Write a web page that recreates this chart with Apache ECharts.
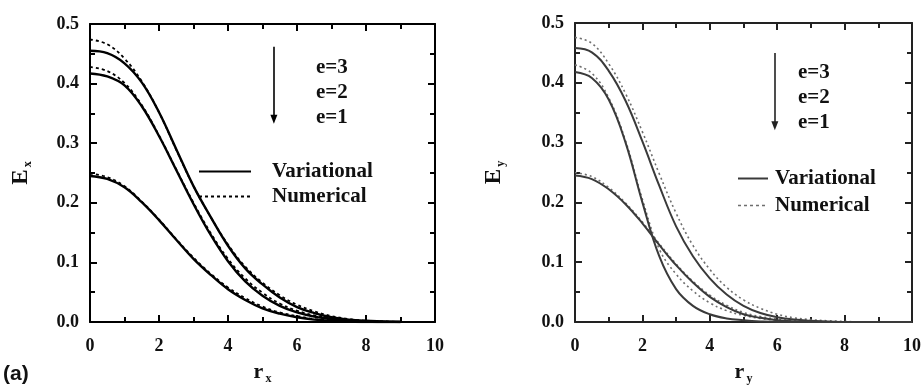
<!DOCTYPE html>
<html>
<head>
<meta charset="utf-8">
<script src="https://cdn.jsdelivr.net/npm/echarts@6/dist/echarts.min.js"></script>
<style>
  html, body { margin: 0; padding: 0; background: #fff; }
  #chart { width: 924px; height: 390px; }
</style>
</head>
<body>
<div id="chart"></div>
<script>
// panel (a): E_x vs r_x
const rx = [0, 0.5, 1, 1.5, 2, 2.5, 3, 3.5, 4, 4.5, 5, 5.5, 6, 6.5, 7, 7.5, 8, 8.5, 9];
const ex_var_e3 = [0.455, 0.451, 0.434, 0.402, 0.352, 0.290, 0.228, 0.176, 0.128, 0.090, 0.063, 0.041, 0.025, 0.015, 0.008, 0.004, 0.002, 0.001, 0.000];
const ex_var_e2 = [0.417, 0.412, 0.397, 0.362, 0.312, 0.255, 0.198, 0.146, 0.102, 0.068, 0.044, 0.027, 0.016, 0.009, 0.005, 0.002, 0.001, 0.000, 0.000];
const ex_var_e1 = [0.245, 0.240, 0.226, 0.201, 0.171, 0.138, 0.106, 0.079, 0.055, 0.037, 0.023, 0.014, 0.008, 0.004, 0.002, 0.001, 0.000, 0.000, 0.000];
const ex_num_e3 = [0.474, 0.466, 0.442, 0.404, 0.352, 0.289, 0.228, 0.176, 0.130, 0.093, 0.066, 0.045, 0.029, 0.018, 0.010, 0.005, 0.002, 0.001, 0.000];
const ex_num_e2 = [0.428, 0.421, 0.401, 0.364, 0.313, 0.256, 0.200, 0.149, 0.106, 0.073, 0.049, 0.031, 0.019, 0.011, 0.006, 0.003, 0.001, 0.000, 0.000];
const ex_num_e1 = [0.249, 0.243, 0.228, 0.202, 0.172, 0.139, 0.108, 0.081, 0.058, 0.040, 0.026, 0.016, 0.010, 0.005, 0.003, 0.001, 0.000, 0.000, 0.000];

// panel (b): E_y vs r_y
const ry = [0, 0.5, 1, 1.5, 2, 2.5, 3, 3.5, 4, 4.5, 5, 5.5, 6, 6.5, 7, 7.5, 8, 8.5, 9, 9.5, 10];
const ey_var_e3 = [0.458, 0.451, 0.420, 0.370, 0.302, 0.228, 0.160, 0.110, 0.073, 0.046, 0.027, 0.015, 0.008, 0.004, 0.002, 0.001, 0.000, 0.000, 0.000, 0.000, 0.000];
const ey_var_e2 = [0.418, 0.408, 0.372, 0.300, 0.200, 0.110, 0.055, 0.027, 0.013, 0.006, 0.003, 0.001, 0.000, 0.000, 0.000, 0.000, 0.000, 0.000, 0.000, 0.000, 0.000];
const ey_var_e1 = [0.245, 0.239, 0.222, 0.197, 0.165, 0.129, 0.095, 0.066, 0.042, 0.025, 0.013, 0.007, 0.003, 0.001, 0.000, 0.000, 0.000, 0.000, 0.000, 0.000, 0.000];
const ey_num_e3 = [0.476, 0.466, 0.432, 0.382, 0.318, 0.248, 0.182, 0.128, 0.088, 0.058, 0.037, 0.023, 0.013, 0.007, 0.004, 0.002, 0.001, 0.000, 0.000, 0.000, 0.000];
const ey_num_e2 = [0.430, 0.416, 0.375, 0.303, 0.205, 0.122, 0.080, 0.052, 0.032, 0.019, 0.011, 0.006, 0.003, 0.001, 0.000, 0.000, 0.000, 0.000, 0.000, 0.000, 0.000];
const ey_num_e1 = [0.250, 0.243, 0.225, 0.199, 0.167, 0.131, 0.097, 0.068, 0.045, 0.028, 0.016, 0.009, 0.005, 0.002, 0.001, 0.000, 0.000, 0.000, 0.000, 0.000, 0.000];

const eLabels = ['e=3', 'e=2', 'e=1'];

const serif = 'Liberation Serif';
const chart = echarts.init(document.getElementById('chart'), null, { renderer: 'canvas' });

const pairs = (xs, ys) => xs.map((x, i) => [x, ys[i]]);

function xAxes(grid, name, color) {
  const common = {
    gridIndex: grid, type: 'value', min: 0, max: 10, interval: 2,
    axisLine: { onZero: false, lineStyle: { color: color, width: 2 } },
    axisTick: { inside: true, length: 7, lineStyle: { color: color, width: 2 } },
    minorTick: { show: true, splitNumber: 2, length: 5, lineStyle: { color: color, width: 2 } },
    splitLine: { show: false }
  };
  return [
    Object.assign({}, common, {
      position: 'bottom',
      name: name, nameLocation: 'middle', nameGap: 37,
      nameTextStyle: {
        rich: {
          m: { fontFamily: serif, fontWeight: 'bold', fontSize: 22, color: '#111' },
          s: { fontFamily: serif, fontWeight: 'bold', fontSize: 12, color: '#111', padding: [14, 0, 0, 2] }
        }
      },
      axisLabel: { fontFamily: serif, fontWeight: 'bold', fontSize: 18, color: '#111', margin: 15 }
    }),
    Object.assign({}, common, { position: 'top', axisLabel: { show: false } })
  ];
}

function yAxes(grid, name, color, gap) {
  const common = {
    gridIndex: grid, type: 'value', min: 0, max: 0.5, interval: 0.1,
    axisLine: { onZero: false, lineStyle: { color: color, width: 2 } },
    axisTick: { inside: true, length: 7, lineStyle: { color: color, width: 2 } },
    minorTick: { show: true, splitNumber: 2, length: 5, lineStyle: { color: color, width: 2 } },
    splitLine: { show: false }
  };
  return [
    Object.assign({}, common, {
      position: 'left',
      name: name, nameLocation: 'middle', nameGap: gap, nameRotate: 90,
      nameTextStyle: {
        rich: {
          m: { fontFamily: serif, fontWeight: 'bold', fontSize: 23, color: '#111' },
          s: { fontFamily: serif, fontWeight: 'bold', fontSize: 12, color: '#111', padding: [14, 0, 0, 2] }
        }
      },
      axisLabel: { fontFamily: serif, fontWeight: 'bold', fontSize: 18, color: '#111', margin: 11,
        formatter: v => v.toFixed(1) }
    }),
    Object.assign({}, common, { position: 'right', axisLabel: { show: false } })
  ];
}

function line(name, xi, yi, data, color, width, dash) {
  return {
    name: name, type: 'line', xAxisIndex: xi, yAxisIndex: yi,
    data: data, showSymbol: false, symbol: 'none', smooth: 0.4,
    lineStyle: { color: color, width: width, type: dash || 'solid' },
    itemStyle: { color: color },
    silent: true, z: dash ? 3 : 4
  };
}

function arrow(xi, yi, x, y0, y1, color) {
  return {
    type: 'line', xAxisIndex: xi, yAxisIndex: yi, data: [], silent: true,
    markLine: {
      silent: true, symbol: ['none', 'triangle'], symbolSize: [7, 9],
      label: { show: false },
      lineStyle: { color: color, width: 1.6, type: 'solid' },
      data: [[{ coord: [x, y0] }, { coord: [x, y1] }]]
    }
  };
}

const blk = '#000';
const gry = '#3a3a3a';
const dot = '#6e6e6e';

const series = [
  line('Variational', 0, 0, pairs(rx, ex_var_e3), blk, 2.4),
  line('Variational', 0, 0, pairs(rx, ex_var_e2), blk, 2.4),
  line('Variational', 0, 0, pairs(rx, ex_var_e1), blk, 2.4),
  line('Numerical', 0, 0, pairs(rx, ex_num_e3), blk, 1.8, [3, 3]),
  line('Numerical', 0, 0, pairs(rx, ex_num_e2), blk, 1.8, [3, 3]),
  line('Numerical', 0, 0, pairs(rx, ex_num_e1), blk, 1.8, [3, 3]),
  line('Variational', 2, 2, pairs(ry, ey_var_e3), gry, 2),
  line('Variational', 2, 2, pairs(ry, ey_var_e2), gry, 2),
  line('Variational', 2, 2, pairs(ry, ey_var_e1), gry, 2),
  line('Numerical', 2, 2, pairs(ry, ey_num_e3), dot, 1.6, [2, 3]),
  line('Numerical', 2, 2, pairs(ry, ey_num_e2), dot, 1.6, [2, 3]),
  line('Numerical', 2, 2, pairs(ry, ey_num_e1), dot, 1.6, [2, 3]),
  arrow(0, 0, 5.33, 0.462, 0.340, blk),
  arrow(2, 2, 5.93, 0.450, 0.328, '#222')
];

const legendText = { fontFamily: serif, fontWeight: 'bold', fontSize: 21, color: '#111' };

chart.setOption({
  animation: false,
  backgroundColor: '#fff',
  grid: [
    { left: 90, top: 24, width: 345, height: 303 },
    { left: 575, top: 23, width: 340, height: 307 }
  ],
  xAxis: [...xAxes(0, '{m|r}{s|x}', '#000'), ...xAxes(1, '{m|r}{s|y}', '#222')],
  yAxis: [...yAxes(0, '{m|E}{s|x}', '#000', 56), ...yAxes(1, '{m|E}{s|y}', '#222', 68)],
  legend: [
    {
      orient: 'vertical', left: 193, top: 156, itemWidth: 52, itemHeight: 14, itemGap: 4,
      itemStyle: { opacity: 0 },
      textStyle: Object.assign({ padding: [0, 0, 0, 16] }, legendText),
      data: [
        { name: 'Variational', itemStyle: { opacity: 0 } },
        { name: 'Numerical', itemStyle: { opacity: 0 } }
      ],
      selectedMode: false
    },
    {
      orient: 'vertical', left: 732, top: 163, itemWidth: 30, itemHeight: 14, itemGap: 6,
      itemStyle: { opacity: 0 },
      textStyle: Object.assign({ padding: [0, 0, 0, 2] }, legendText),
      data: [
        { name: 'Variational', itemStyle: { opacity: 0 }, lineStyle: { color: gry, width: 2 } },
        { name: 'Numerical', itemStyle: { opacity: 0 }, lineStyle: { color: dot, width: 1.6 } }
      ],
      selectedMode: false
    }
  ],
  graphic: [
    ...eLabels.map((t, i) => ({
      type: 'text', left: 316, top: 57 + i * 25,
      style: { text: t, font: 'bold 21px "Liberation Serif"', fill: '#111' }
    })),
    ...eLabels.map((t, i) => ({
      type: 'text', left: 798, top: 62 + i * 25,
      style: { text: t, font: 'bold 21px "Liberation Serif"', fill: '#111' }
    })),
    {
      type: 'text', left: 3, top: 364,
      style: { text: '(a)', font: 'bold 21px "Liberation Sans"', fill: '#111' }
    }
  ],
  series: series
});
</script>
</body>
</html>
